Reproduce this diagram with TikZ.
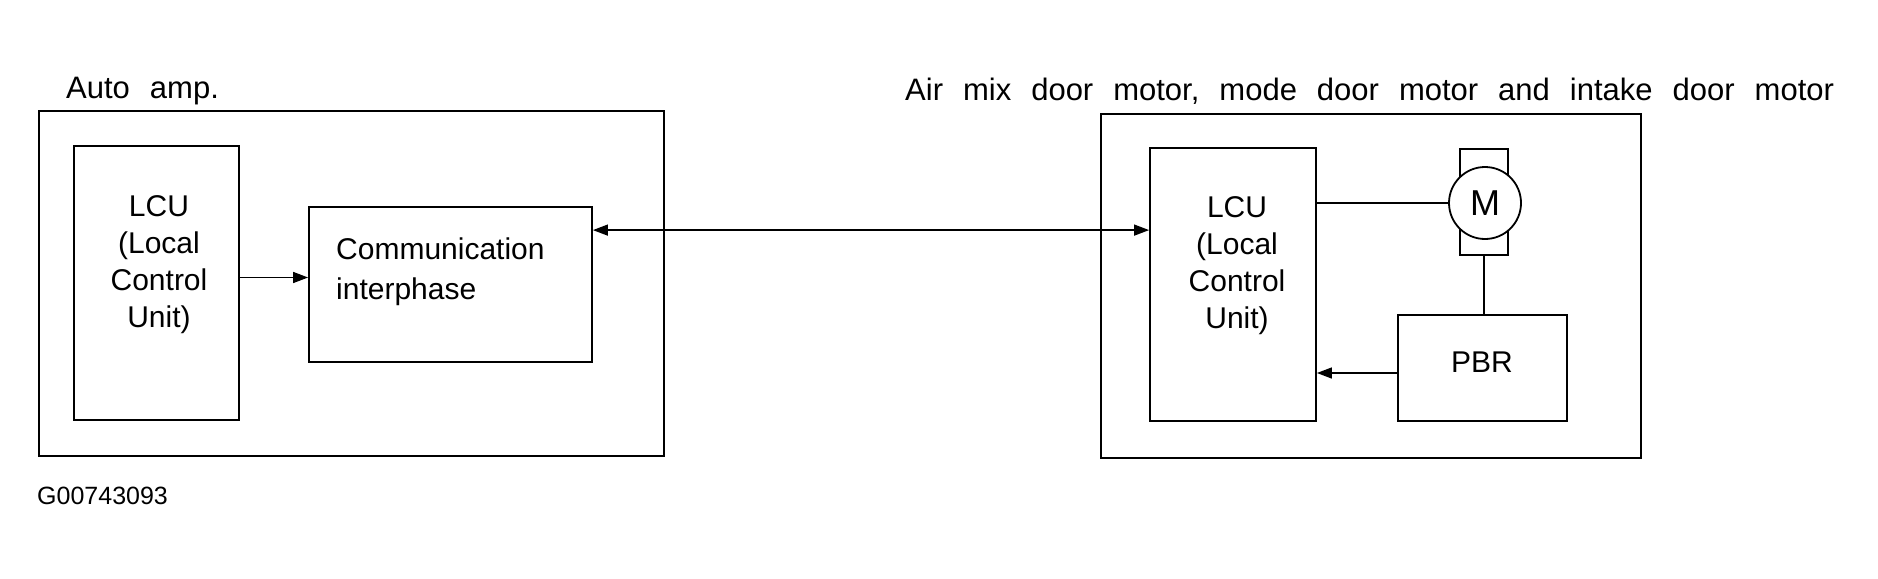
\documentclass[tikz,border=0pt]{standalone}
\usepackage{fontspec}
\setmainfont{Liberation Sans}
\usetikzlibrary{arrows.meta}
\newcommand{\headfont}{\fontsize{31}{40}\selectfont\spaceskip=20pt plus 0pt minus 0pt\relax}

\begin{document}
\begin{tikzpicture}[x=1pt,y=-1pt,
  box/.style={draw,line width=1.8pt,inner sep=0pt},
  lbl/.style={font=\fontsize{30}{40}\selectfont,inner sep=0pt},
  head/.style={inner sep=0pt,anchor=base west},
  wire/.style={line width=1.4pt},
  arr/.style={wire,-{Triangle[length=15pt,width=11pt]}}]
\useasboundingbox (0,0) rectangle (1878,578);
  % auto amp side
  \node[box,minimum width=625,minimum height=345] (amp) at (351.5,283.5) {};
  \node[head] (amplbl) at (66,98) {\headfont Auto amp.};
  \node[box,minimum width=165,minimum height=274] (lcuL) at (156.5,283) {};
  \node[lbl,align=center,font=\fontsize{30}{37}\selectfont] (lcuLtxt) at (159,265) {LCU\\(Local\\Control\\Unit)};
  \node[box,minimum width=283,minimum height=155] (comm) at (450.5,284.5) {};
  \node[lbl,align=left,anchor=west] (commtxt) at (336,272) {Communication\\interphase};
  % motor side
  \node[box,minimum width=540,minimum height=344] (mot) at (1371,286) {};
  \node[head] (motlbl) at (905,100) {\headfont Air mix door motor, mode door motor and intake door motor};
  \node[box,minimum width=166,minimum height=273] (lcuR) at (1233,284.5) {};
  \node[lbl,align=center,font=\fontsize{30}{37}\selectfont] (lcuRtxt) at (1237,266) {LCU\\(Local\\Control\\Unit)};
  \node[box,minimum width=169,minimum height=106] (pbr) at (1482.5,368) {};
  \node[lbl] (pbrtxt) at (1482,362) {PBR};
  \node[box,line width=1.4pt,minimum width=48,minimum height=106] (housing) at (1484,202) {};
  \node[box,circle,fill=white,minimum size=72,font=\fontsize{36}{40}\selectfont] (motor) at (1485,203) {M};
  \node[font=\fontsize{25}{30}\selectfont,inner sep=0pt,anchor=base west] (code) at (37,504) {G00743093};
  % connections
  \coordinate (ain) at ([yshift=7pt]comm.west);
  \draw[arr] (ain -| lcuL.east) -- (ain);
  \coordinate (bus) at ([yshift=-24pt]comm.north east);
  \draw[arr,{Triangle[length=15pt,width=11pt]}-{Triangle[length=15pt,width=11pt]}] (bus) -- (bus -| lcuR.west);
  \draw[wire] (motor.west) -- (motor.west -| lcuR.east);
  \draw[wire] (housing.south) -- (housing.south |- pbr.north);
  \coordinate (fb) at ([yshift=-5pt]pbr.west);
  \draw[arr] (fb) -- (fb -| lcuR.east);
\end{tikzpicture}
\end{document}
